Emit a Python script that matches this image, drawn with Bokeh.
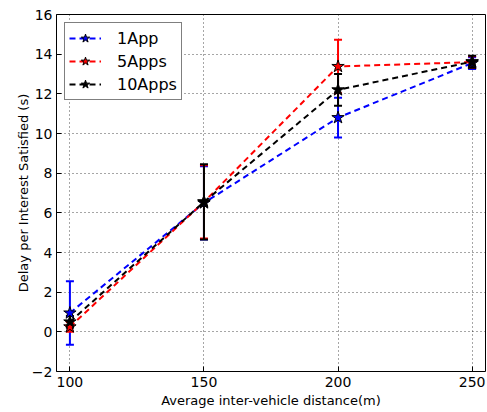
from bokeh.plotting import figure
from bokeh.models import (ColumnDataSource, Whisker, TeeHead, Legend, LegendItem, FixedTicker,
                          Range1d)
from bokeh.embed import file_html
from bokeh.resources import INLINE

distances = [100, 150, 200, 250]
series_names = ["1App", "5Apps", "10Apps"]
delay_1app = [0.95, 6.5, 10.8, 13.55]
err_1app = [1.6, 1.85, 1.0, 0.3]
delay_5apps = [0.25, 6.55, 13.38, 13.6]
err_5apps = [0.25, 1.85, 1.35, 0.3]
delay_10apps = [0.5, 6.55, 12.2, 13.62]
err_10apps = [0.3, 1.9, 0.8, 0.3]
colors = ["#0000ff", "#ff0000", "#000000"]
x_ticks = [100, 150, 200, 250]
y_ticks = [-2, 0, 2, 4, 6, 8, 10, 12, 14, 16]

FONT = "DejaVu Sans"

p = figure(width=487, height=410, output_backend="svg", toolbar_location=None,
           x_range=Range1d(95, 255), y_range=Range1d(-2, 16),
           min_border_left=56, min_border_right=2, min_border_top=14, min_border_bottom=38)

p.outline_line_color = "black"
p.outline_line_width = 1
p.background_fill_color = "white"
p.border_fill_color = "white"

for ax in (p.xaxis[0], p.yaxis[0]):
    ax.axis_line_color = None
    ax.major_tick_in = 5
    ax.major_tick_out = 0
    ax.minor_tick_line_color = None
    ax.major_label_text_font = FONT
    ax.major_label_text_font_size = "14px"
    ax.major_label_text_color = "black"
    ax.axis_label_text_font = FONT
    ax.axis_label_text_font_size = "13px"
    ax.axis_label_text_font_style = "normal"
    ax.axis_label_text_color = "black"

p.xaxis.ticker = FixedTicker(ticks=x_ticks)
p.yaxis.ticker = FixedTicker(ticks=y_ticks)
p.xaxis.axis_label = "Average inter-vehicle distance(m)"
p.yaxis.axis_label = "Delay per Interest Satisfied (s)"
p.xaxis.axis_label_standoff = 3
p.yaxis.axis_label_standoff = -2
p.xaxis.major_label_standoff = 5
p.yaxis.major_label_standoff = 4

p.grid.grid_line_color = "black"
p.grid.grid_line_alpha = 0.7
p.grid.grid_line_dash = "1 3"
p.grid.grid_line_width = 1

all_data = [(delay_1app, err_1app), (delay_5apps, err_5apps), (delay_10apps, err_10apps)]

items = []
for name, (vals, errs), col in zip(series_names, all_data, colors):
    src = ColumnDataSource(dict(
        x=distances, y=vals,
        upper=[v + e for v, e in zip(vals, errs)],
        lower=[v - e for v, e in zip(vals, errs)],
    ))
    ln = p.line("x", "y", source=src, line_color=col, line_width=2, line_dash="6 4")
    w = Whisker(base="x", upper="upper", lower="lower", source=src, dimension="height",
                line_color=col, line_width=2,
                upper_head=TeeHead(size=8, line_color=col, line_width=2),
                lower_head=TeeHead(size=8, line_color=col, line_width=2))
    p.add_layout(w)
    sc = p.scatter("x", "y", source=src, marker="star", size=13,
                   fill_color=col, line_color="black", line_width=1)
    items.append(LegendItem(label=name, renderers=[ln, sc]))

legend = Legend(items=items, location="top_left")
legend.label_text_font = FONT
legend.label_text_font_size = "16px"
legend.label_text_color = "black"
legend.border_line_color = "black"
legend.border_line_width = 1
legend.background_fill_alpha = 1
legend.glyph_width = 32
legend.glyph_height = 22
legend.spacing = 1
legend.padding = 4
legend.margin = 8
legend.label_standoff = 16
p.add_layout(legend)

open("out.html", "w").write(file_html(p, INLINE))
